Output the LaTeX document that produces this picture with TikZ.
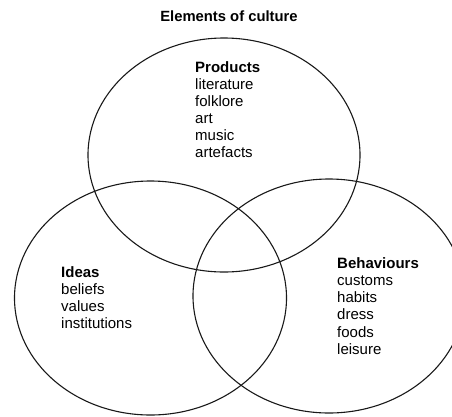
\documentclass[tikz,border=0pt]{standalone}
\usepackage{fontspec}
\setmainfont{Liberation Sans}
\begin{document}
\begin{tikzpicture}[x=1pt,y=-1pt,
  setcircle/.style={draw=black!90,line width=1.1pt},
  grouptext/.style={anchor=north west,inner sep=0pt,align=left,
    font=\fontsize{15}{17.1}\selectfont},
  titletext/.style={inner sep=0pt,font=\fontsize{14.8}{17}\selectfont\bfseries}]
\useasboundingbox (0,0) rectangle (452,416);
\clip (0,0) rectangle (452,416);
\fill[white] (0,0) rectangle (452,416);
\node[titletext] (title) at (229,16.7) {Elements of culture};
\draw[setcircle] (224,155) ellipse [x radius=136, y radius=117];
\draw[setcircle] (150.5,298) ellipse [x radius=136, y radius=117];
\draw[setcircle] (329,296) ellipse [x radius=136, y radius=117];
\node[grouptext] (products) at (195,61.3) {\textbf{Products}\\literature\\folklore\\art\\music\\artefacts};
\node[grouptext] (ideas) at (61,266.3) {\textbf{Ideas}\\beliefs\\values\\institutions};
\node[grouptext] (behaviours) at (337,257.6) {\textbf{Behaviours}\\customs\\habits\\dress\\foods\\leisure};
\end{tikzpicture}
\end{document}
